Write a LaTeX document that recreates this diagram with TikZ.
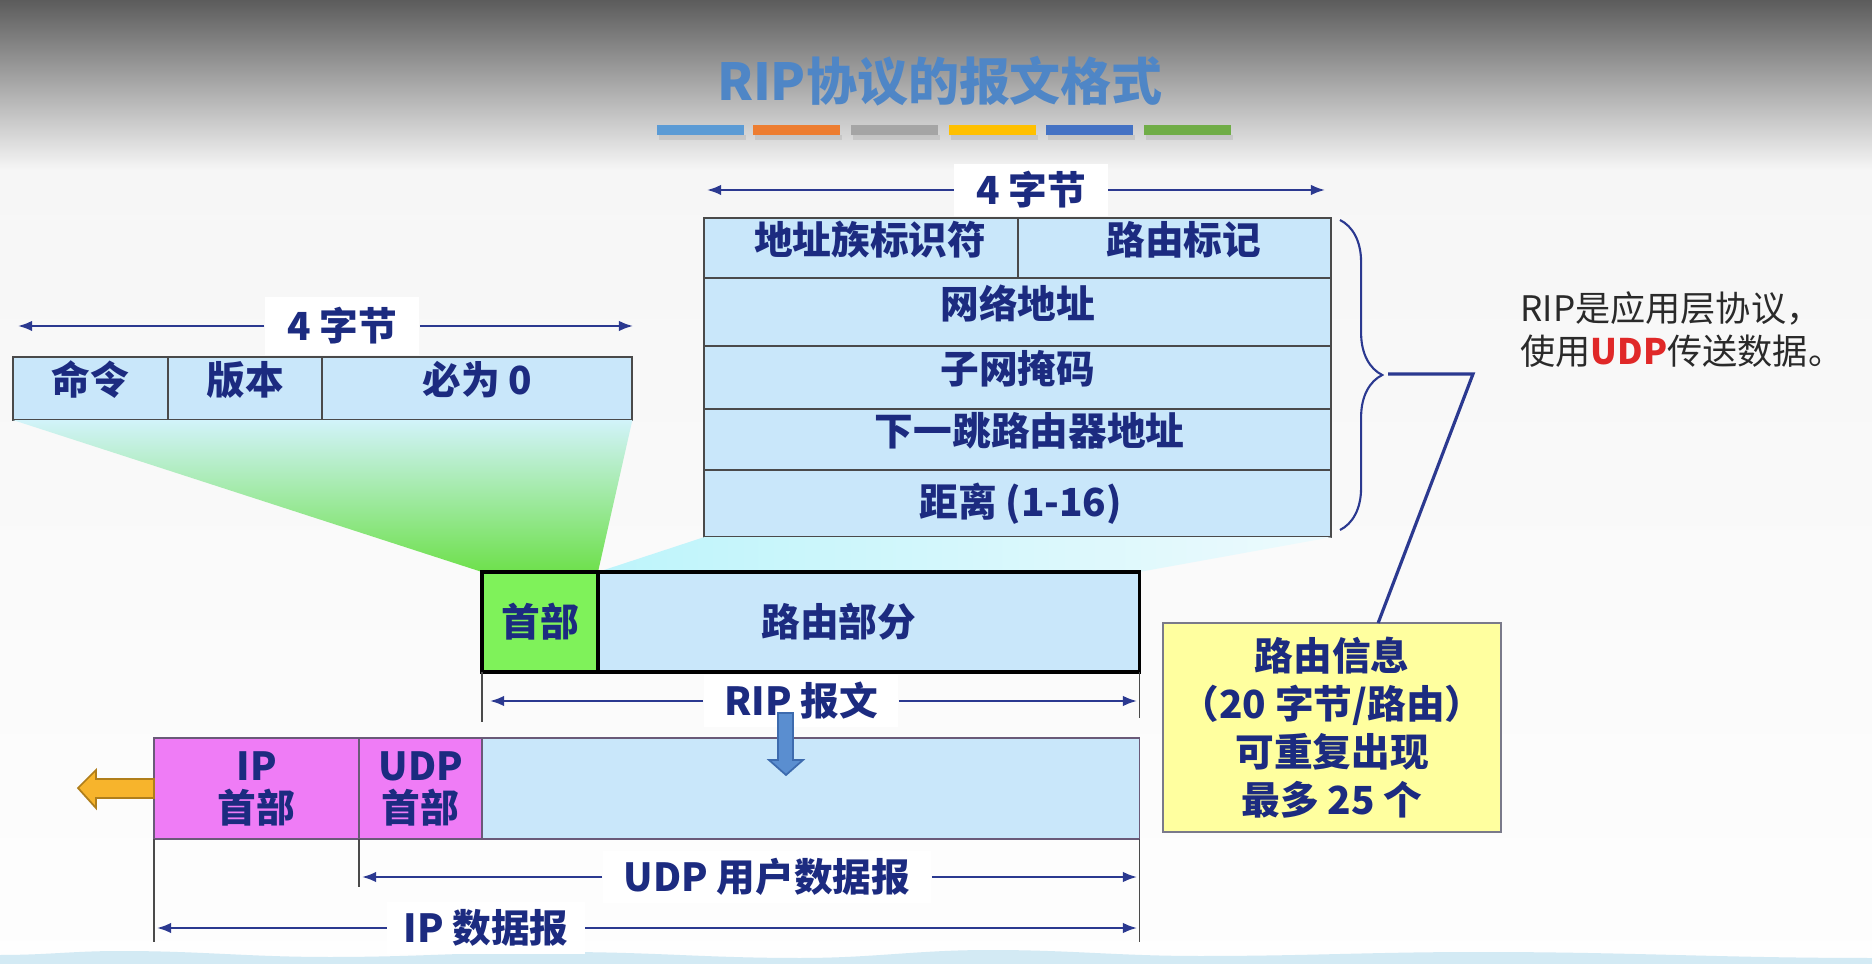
\documentclass[tikz,border=0pt]{standalone}
\usepackage{fontspec}
\newfontfamily\cjk{Noto Sans CJK SC}
\usetikzlibrary{positioning,arrows.meta,decorations.pathreplacing}
\newcommand\tightlines{\lineskiplimit=-50pt\relax}
\definecolor{navy}{HTML}{1C2B80}
\definecolor{linkblue}{HTML}{2B3990}
\definecolor{cellblue}{HTML}{C9E7FA}
\definecolor{cellline}{HTML}{4A4A4A}
\definecolor{hdrgreen}{HTML}{7FF25A}
\definecolor{ipmag}{HTML}{EF7CF6}
\definecolor{ipline}{HTML}{6A5A78}
\definecolor{notey}{HTML}{FFFF9F}
\definecolor{notegray}{HTML}{7A7A8A}
\definecolor{titleblue}{HTML}{4F86C6}
\definecolor{udpred}{HTML}{E02828}
\definecolor{sidetext}{HTML}{2A2A2A}
\definecolor{downblue}{HTML}{5A8ED0}
\definecolor{downedge}{HTML}{3D6BAE}
\definecolor{leftorange}{HTML}{F7B42C}
\definecolor{leftedge}{HTML}{B07E1A}
\definecolor{fancyan}{HTML}{D2F3FA}
\definecolor{fangreen}{HTML}{6EE04C}
\definecolor{wave}{HTML}{D3EAF4}
\definecolor{b1}{HTML}{5B9BD5}
\definecolor{b2}{HTML}{ED7D31}
\definecolor{b3}{HTML}{A5A5A5}
\definecolor{b4}{HTML}{FFC000}
\definecolor{b5}{HTML}{4472C4}
\definecolor{b6}{HTML}{70AD47}
\tikzset{
  cell/.style={draw=cellline,fill=cellblue,line width=0.5pt,inner sep=0pt,outer sep=0pt,
               anchor=north west,align=center,text=navy,
               font=\cjk\bfseries\fontsize{11}{13.6}\selectfont},
  lift/.style={text height=8.5pt,text depth=5pt},
  ripcell/.style={cell,draw=black,line width=1pt},
  ipcell/.style={cell,fill=ipmag,draw=ipline,
                 font=\cjk\bfseries\fontsize{11}{11.9}\selectfont\tightlines},
  dimlbl/.style={fill=white,inner ysep=2pt,text=navy,
                 font=\cjk\bfseries\fontsize{11}{13.6}\selectfont},
  dimarr/.style={-{Latex[length=4pt,width=3pt]},draw=linkblue,line width=0.6pt},
  tick/.style={draw=cellline,line width=0.45pt},
  link/.style={draw=linkblue,line width=0.9pt}
}

\begin{document}
\begin{tikzpicture}[x=0.01cm,y=-0.01cm]
    \useasboundingbox (0,0) rectangle (1872,964);
    % background
    \shade[top color=gray!7,bottom color=gray!1] (0,170) rectangle (1872,964);
    \shade[top color=black!64,bottom color=gray!7] (0,0) rectangle (1872,170);
    \fill[wave] (0,964) -- (0,955) to[out=0,in=180] (120,951) to[out=0,in=180] (330,957)
      to[out=0,in=180] (560,952) to[out=0,in=180] (800,958) to[out=0,in=180] (990,950)
      to[out=0,in=180] (1200,956) to[out=0,in=180] (1480,952) to[out=0,in=180] (1872,958)
      -- (1872,964) -- cycle;

    % title and colour bars
    \node[text=titleblue,font=\cjk\bfseries\fontsize{14.5}{17}\selectfont] (title) at (940,81) {RIP协议的报文格式};
    \foreach \xa/\col in {657/b1,753/b2,851/b3,949/b4,1046/b5,1144/b6}{
      \fill[black,opacity=0.08] (\xa+2,135) rectangle ++(87,5);
      \fill[\col] (\xa,125) rectangle ++(87,10);
    }

    % header fields
    \node[cell,lift,minimum width=1.55cm,minimum height=0.63cm] (cmd) at (13,357) {命令};
    \node[cell,lift,minimum width=1.54cm,minimum height=0.63cm,right=0pt of cmd] (ver) {版本};
    \node[cell,lift,minimum width=3.10cm,minimum height=0.63cm,right=0pt of ver] (zero) {必为 0};

    % route entry
    \node[cell,lift,minimum width=3.14cm,minimum height=0.60cm] (afi) at (704,218) {\hspace*{0.18cm}地址族标识符};
    \node[cell,lift,minimum width=3.13cm,minimum height=0.60cm,right=0pt of afi] (tag) {\hspace*{0.18cm}路由标记};
    \node[cell,lift,minimum width=6.27cm,minimum height=0.68cm] (net) at (afi.south west) {网络地址};
    \node[cell,lift,minimum width=6.27cm,minimum height=0.63cm] (mask) at (net.south west) {子网掩码};
    \node[cell,lift,minimum width=6.27cm,minimum height=0.61cm] (hop) at (mask.south west) {\hspace*{0.24cm}下一跳路由器地址};
    \node[cell,minimum width=6.27cm,minimum height=0.67cm] (dist) at (hop.south west) {\hspace*{0.06cm}距离 (1-16)};

    % RIP message
    \coordinate (hdrnw) at (482,572);
    \coordinate (hdrne) at (598,572);
    \coordinate (routene) at (1139,572);
    \shade[top color=fancyan,bottom color=fangreen] (cmd.south west) -- (zero.south east) -- (hdrne) -- (hdrnw) -- cycle;
    \shade[left color=fancyan!90!cyan,right color=fancyan!40] (dist.south west) -- (dist.south east) -- (routene) -- (hdrne) -- cycle;
    \node[ripcell,fill=hdrgreen,minimum width=1.16cm,minimum height=1.00cm] (hdr) at (hdrnw) {首部};
    \node[ripcell,minimum width=5.41cm,minimum height=1.00cm,right=0pt of hdr] (route) {路由部分\hspace*{0.6cm}};

    % UDP / IP datagram
    \node[ipcell,minimum width=2.05cm,minimum height=1.01cm] (iph) at (154,738) {IP\\首部};
    \node[ipcell,minimum width=1.23cm,minimum height=1.01cm,right=0pt of iph] (udph) {UDP\\首部};
    \node[ipcell,fill=cellblue,minimum width=6.57cm,minimum height=1.01cm,right=0pt of udph] (data) {};

    % extent ticks
    \draw[tick] (hdr.south west) -- ++(0,50);
    \draw[tick] (route.south east) -- ++(0,46);
    \draw[tick] (iph.south west) -- ++(0,103);
    \draw[tick] (udph.south west) -- ++(0,48);
    \draw[tick] (data.south east) -- ++(0,103);

    % byte widths and extents
    \coordinate (la) at (18,326);   \coordinate (ra) at (633,326);
    \coordinate (lb) at (707,190);  \coordinate (rb) at (1325,190);
    \coordinate (lr) at (490,701);  \coordinate (rr) at (1137,701);
    \coordinate (lu) at (362,877);  \coordinate (ru) at (1137,877);
    \coordinate (li) at (157,928);  \coordinate (ri) at (1137,928);
    \node[dimlbl,minimum width=1.54cm,minimum height=0.58cm] (w1) at (342,326) {4 字节};
    \node[dimlbl,minimum width=1.53cm,minimum height=0.50cm] (w2) at (1031,190) {4 字节};
    \node[dimlbl,minimum width=1.94cm] (riplbl) at (801,701) {RIP 报文};
    \node[dimlbl,minimum width=3.28cm] (udplbl) at (767,877) {UDP 用户数据报};
    \node[dimlbl,minimum width=1.97cm] (iplbl) at (486,928) {IP 数据报};
    \draw[dimarr] (w1) -- (la);     \draw[dimarr] (w1) -- (ra);
    \draw[dimarr] (w2) -- (lb);     \draw[dimarr] (w2) -- (rb);
    \draw[dimarr] (riplbl) -- (lr); \draw[dimarr] (riplbl) -- (rr);
    \draw[dimarr] (udplbl) -- (lu); \draw[dimarr] (udplbl) -- (ru);
    \draw[dimarr] (iplbl) -- (li);  \draw[dimarr] (iplbl) -- (ri);

    % block arrows
    \draw[fill=downblue,draw=downedge,line width=0.5pt] (778,713) -- (793,713) -- (793,760) -- (803,760)
      -- (786,775) -- (769,760) -- (778,760) -- cycle;
    \draw[fill=leftorange,draw=leftedge,line width=0.5pt] (iph.west |- 0,779) -- (96,779) -- (96,770)
      -- (78,788) -- (96,808) -- (96,798) -- (iph.west |- 0,798) -- cycle;

    % routing info note
    \node[cell,fill=notey,draw=notegray,minimum width=3.38cm,minimum height=2.09cm] (info) at (1163,623)
      {路由信息\\（20 字节/路由）\\可重复出现\\最多 25 个};
    \draw[decorate,decoration={brace,amplitude=12pt},draw=linkblue,line width=0.6pt] (1340,220) -- (1340,530);
    \coordinate (btip) at (1388,374);
    \coordinate (bend) at (1473,374);
    \draw[link] (btip) -- (bend) -- ([xshift=0.46cm]info.north);

    \node[anchor=west,align=left,text=sidetext,font=\cjk\fontsize{10}{12.2}\selectfont] (side) at (1508,330)
      {RIP是应用层协议，\\使用\textcolor{udpred}{\bfseries UDP}传送数据。};
\end{tikzpicture}
\end{document}
